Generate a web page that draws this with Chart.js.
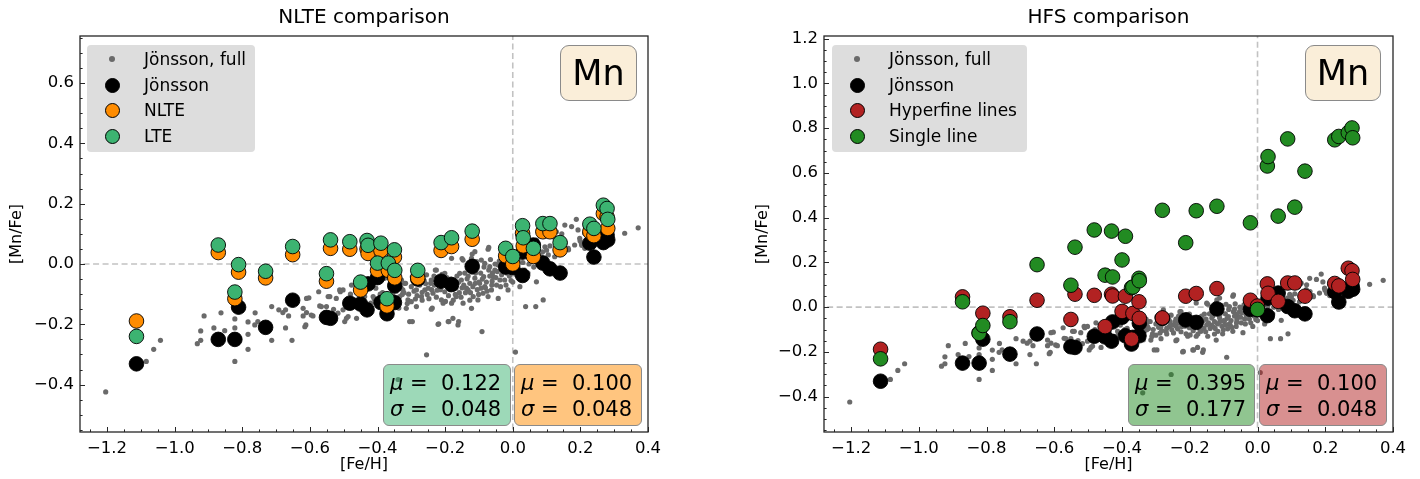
<!DOCTYPE html>
<html>
<head>
<meta charset="utf-8">
<script src="https://cdn.jsdelivr.net/npm/chart.js@4.4.1/dist/chart.umd.min.js"></script>
<style>
  html, body { margin: 0; padding: 0; background: #fff; }
  body { width: 1420px; height: 479px; position: relative; overflow: hidden; font-family: 'DejaVu Sans', sans-serif; }
  .wrap { position: absolute; top: 0; width: 710px; height: 479px; }
  .legend { position: absolute; height: 107px; background: rgba(211,211,211,0.78); border-radius: 4px; }
  .legend .row { position: absolute; left: 0; height: 20px; font-size: 17px; line-height: 20px; color: #000; white-space: nowrap; }
  .legend .mk { position: absolute; border-radius: 50%; box-sizing: border-box; }
  .legend .tx { position: absolute; top: 0; }
  .tag { position: absolute; top: 45px; width: 77px; height: 56px; box-sizing: border-box; border: 1.3px solid #8a8a8a; border-radius: 9px;
         background: rgba(245,222,179,0.5); font-size: 35px; line-height: 54px; text-align: center; color: #000; }
  .stat { position: absolute; top: 364px; height: 62px; box-sizing: border-box; border: 1.3px solid #8a8a8a; border-radius: 6px;
          font-size: 21px; line-height: 26px; color: #000; padding: 5px 0 0 6px; white-space: pre; }
  .stat i { font-style: italic; }
</style>
</head>
<body>
<div class="wrap" style="left:0"><canvas id="nlte" width="710" height="479"></canvas></div>
<div class="wrap" style="left:710px"><canvas id="hfs" width="710" height="479"></canvas></div>

<!-- legends -->
<div class="legend" style="left:87px; top:45px; width:168px;">
  <div class="row" style="top:4px"><span class="mk" style="left:22px;top:7px;width:6px;height:6px;background:#6a6a6a"></span><span class="tx" style="left:57px">Jönsson, full</span></div>
  <div class="row" style="top:30px"><span class="mk" style="left:18px;top:3px;width:15px;height:15px;background:#000;border:1px solid #000"></span><span class="tx" style="left:57px">Jönsson</span></div>
  <div class="row" style="top:55px"><span class="mk" style="left:18px;top:3px;width:15px;height:15px;background:#ff8c00;border:1px solid #000"></span><span class="tx" style="left:57px">NLTE</span></div>
  <div class="row" style="top:81px"><span class="mk" style="left:18px;top:3px;width:15px;height:15px;background:#3cb371;border:1px solid #000"></span><span class="tx" style="left:57px">LTE</span></div>
</div>
<div class="legend" style="left:832px; top:45px; width:195px;">
  <div class="row" style="top:4px"><span class="mk" style="left:22px;top:7px;width:6px;height:6px;background:#6a6a6a"></span><span class="tx" style="left:57px">Jönsson, full</span></div>
  <div class="row" style="top:30px"><span class="mk" style="left:18px;top:3px;width:15px;height:15px;background:#000;border:1px solid #000"></span><span class="tx" style="left:57px">Jönsson</span></div>
  <div class="row" style="top:55px"><span class="mk" style="left:18px;top:3px;width:15px;height:15px;background:#b22222;border:1px solid #000"></span><span class="tx" style="left:57px">Hyperfine lines</span></div>
  <div class="row" style="top:81px"><span class="mk" style="left:18px;top:3px;width:15px;height:15px;background:#228b22;border:1px solid #000"></span><span class="tx" style="left:57px">Single line</span></div>
</div>

<div class="tag" style="left:560px">Mn</div>
<div class="tag" style="left:1305px; width:76px">Mn</div>

<div class="stat" style="left:383px; width:128px; background:rgba(60,179,113,0.5)"><i>μ</i> =  0.122
<i>σ</i> =  0.048</div>
<div class="stat" style="left:514px; width:128px; background:rgba(255,140,0,0.5)"><i>μ</i> =  0.100
<i>σ</i> =  0.048</div>
<div class="stat" style="left:1128px; width:127px; background:rgba(34,139,34,0.5)"><i>μ</i> =  0.395
<i>σ</i> =  0.177</div>
<div class="stat" style="left:1259px; width:128px; background:rgba(178,34,34,0.5)"><i>μ</i> =  0.100
<i>σ</i> =  0.048</div>

<script>
// ---- data ----
const xTicks = [-1.2, -1.0, -0.8, -0.6, -0.4, -0.2, 0.0, 0.2, 0.4];
const yTicksNlte = [-0.4, -0.2, 0.0, 0.2, 0.4, 0.6];
const yTicksHfs = [-0.4, -0.2, 0.0, 0.2, 0.4, 0.6, 0.8, 1.0, 1.2];

// Jönsson, full sample (grey dots)
const fullFe = [-1.204,-1.084,-1.062,-1.042,-0.933,-0.923,-0.923,-0.913,-0.884,-0.863,-0.852,-0.822,-0.822,-0.822,-0.783,-0.783,-0.783,-0.762,-0.763,-0.754,
  -0.713,-0.713,-0.692,-0.672,-0.663,-0.672,-0.653,-0.680,-0.620,-0.610,-0.612,-0.603,-0.596,-0.574,-0.571,-0.551,-0.546,-0.522,-0.510,-0.502,-0.492,
  -0.610,-0.620,-0.615,-0.591,-0.566,-0.561,-0.541,-0.512,-0.502,-0.517,-0.497,-0.487,-0.477,-0.462,-0.438,-0.418,-0.413,-0.398,-0.379,-0.369,-0.344,
  -0.354,-0.334,-0.325,-0.320,-0.310,-0.315,-0.329,-0.305,-0.285,-0.285,-0.270,-0.260,-0.255,-0.241,-0.241,-0.236,-0.226,-0.221,-0.211,-0.201,-0.201,
  -0.191,-0.181,-0.177,-0.181,-0.167,-0.162,-0.157,-0.152,-0.147,-0.147,-0.137,-0.255,
  -0.112,-0.073,-0.122,-0.107,-0.093,-0.083,-0.068,-0.053,-0.043,-0.033,-0.038,-0.048,-0.063,-0.083,-0.098,-0.112,-0.127,-0.132,-0.117,-0.103,-0.088,
  -0.073,-0.058,-0.024,-0.014,-0.043,-0.122,-0.009,-0.029,-0.091,0.038,0.068,0.090,0.008,0.021,0.070,0.021,0.095,0.154,0.188,0.203,0.213,0.331,0.371,
  0.124,0.104,0.055,0.041,0.016,0.006,0.114,0.129,0.070,0.144,0.272,0.213,
  -0.297,-0.317,-0.327,-0.312,-0.288,-0.268,-0.253,-0.238,-0.224,-0.243,-0.199,-0.170,-0.150,-0.135,-0.120,-0.111,-0.101,-0.086,-0.071,-0.061,-0.081,
  -0.071,-0.160,-0.189,-0.219,-0.297,-0.337,-0.278,-0.209,-0.150,-0.120,-0.229,
  0.085,0.100,0.164,0.183,0.198,0.193,0.174,0.238,0.145,0.155,0.165,0.199,0.214,0.204,-0.339,
  -0.300,-0.290,-0.275,-0.262,-0.250,-0.232,-0.218,-0.205,-0.195,-0.185,-0.172,-0.165,-0.158,-0.142,-0.130,-0.125,-0.115,-0.105,-0.095,-0.090,-0.078,
  -0.066,-0.060,-0.050,-0.040,-0.030,-0.020,-0.010,0.000,0.012,0.025,0.035,0.048,0.058,0.078,0.088,0.110,0.120,0.135,-0.345,-0.360,-0.385,-0.405,
  -0.420,-0.450,-0.465,-0.530,-0.480,
  -0.330,-0.322,-0.308,-0.300,-0.292,-0.283,-0.276,-0.268,-0.258,-0.248,-0.240,-0.233,-0.226,-0.214,-0.206,-0.197,-0.190,-0.183,-0.176,-0.168,
  -0.160,-0.153,-0.145,-0.140,-0.132,-0.127,-0.118,-0.110,-0.100,-0.094,-0.085,-0.076,-0.068,-0.062,-0.052,-0.046,-0.036,-0.028,-0.018,-0.005,
  0.010,0.030,0.045,0.062,0.075,0.095,0.105,-0.355,-0.340,-0.365,-0.392,-0.410];
const fullMn = [-0.424,-0.323,-0.283,-0.253,-0.264,-0.253,-0.222,-0.172,-0.212,-0.162,-0.221,-0.182,-0.212,-0.323,-0.192,-0.233,-0.283,-0.162,-0.202,-0.191,
  -0.141,-0.253,-0.152,-0.152,-0.172,-0.212,-0.253,-0.161,-0.147,-0.161,-0.202,-0.112,-0.169,-0.092,-0.139,-0.141,-0.108,-0.114,-0.092,-0.152,-0.180,
  -0.114,-0.172,-0.208,-0.172,-0.141,-0.185,-0.108,-0.086,-0.086,-0.163,-0.191,-0.174,-0.070,-0.180,-0.108,-0.075,-0.108,-0.119,-0.047,-0.044,-0.053,
  -0.119,-0.108,-0.086,-0.064,-0.119,-0.147,-0.053,-0.191,-0.141,-0.086,-0.108,-0.086,-0.036,-0.053,-0.150,-0.097,-0.020,-0.200,-0.119,-0.031,-0.092,
  -0.191,-0.130,-0.180,0.019,-0.108,-0.202,-0.031,-0.053,0.013,-0.130,-0.080,-0.301,
  0.041,0.049,0.019,0.008,0.013,0.002,-0.009,-0.020,-0.003,-0.036,-0.053,-0.070,-0.086,-0.075,-0.064,-0.047,-0.064,-0.086,-0.108,-0.119,-0.097,
  -0.108,-0.042,-0.053,-0.086,-0.114,-0.147,-0.020,0.024,-0.224,-0.141,-0.141,-0.119,-0.292,-0.075,-0.059,-0.042,0.057,0.129,0.148,0.068,0.052,0.102,0.120,
  0.024,-0.003,0.013,0.046,0.008,-0.020,0.124,0.107,0.079,0.079,0.074,0.102,
  -0.042,-0.064,-0.101,-0.131,-0.116,-0.094,-0.101,-0.146,-0.087,-0.064,-0.124,-0.101,-0.079,-0.049,-0.027,-0.064,-0.101,-0.042,-0.020,-0.057,-0.079,
  0.055,-0.191,-0.191,-0.198,-0.191,-0.146,-0.012,-0.034,0.018,0.033,-0.020,
  0.024,0.046,0.052,0.063,0.085,0.113,0.124,0.063,0.100,0.070,0.047,0.077,0.107,0.062,-0.383,
  -0.075,-0.060,-0.070,-0.055,-0.080,-0.070,-0.050,-0.065,-0.045,-0.085,-0.060,-0.040,-0.095,-0.030,-0.010,-0.095,-0.005,-0.085,-0.030,-0.050,-0.060,
  0.015,-0.030,-0.045,0.010,-0.015,-0.070,-0.040,-0.060,-0.010,0.020,-0.020,0.000,0.030,0.010,0.040,0.060,0.090,0.055,-0.090,-0.075,-0.095,-0.080,
  -0.130,-0.100,-0.120,-0.150,-0.100,
  -0.080,-0.095,-0.100,-0.125,-0.090,-0.105,-0.050,-0.120,-0.065,-0.115,-0.085,-0.040,-0.110,-0.085,-0.130,-0.070,-0.105,-0.050,-0.120,-0.080,
  -0.060,-0.110,-0.070,-0.095,-0.040,-0.120,-0.075,-0.030,-0.060,-0.080,-0.010,-0.090,-0.040,-0.070,0.000,-0.025,-0.075,0.005,-0.030,-0.055,
  -0.035,0.005,-0.030,-0.010,0.030,0.020,0.030,-0.100,-0.070,-0.120,-0.100,-0.115];

// the comparison stars
const starFe  = [-1.113,-0.871,-0.822,-0.811,-0.731,-0.651,-0.551,-0.539,-0.482,-0.450,-0.431,-0.428,-0.400,-0.390,-0.372,-0.368,-0.350,-0.349,
  -0.281,-0.212,-0.181,-0.120,-0.021,0.000,0.029,0.031,0.061,0.089,0.110,0.140,0.228,0.240,0.268,0.279,0.281];
const jonsson = [-0.331,-0.250,-0.250,-0.143,-0.210,-0.120,-0.177,-0.180,-0.130,-0.133,-0.152,-0.066,-0.045,-0.128,-0.165,-0.135,-0.128,-0.072,
  -0.050,-0.057,-0.068,-0.008,-0.010,-0.012,-0.038,0.040,0.063,0.003,-0.016,-0.030,0.069,0.023,0.071,0.096,0.080];
const nlte    = [-0.189,0.038,-0.115,-0.027,-0.046,0.031,-0.057,0.052,0.049,-0.086,0.050,0.035,-0.021,0.045,-0.139,-0.021,0.023,-0.046,
  -0.046,0.045,0.058,0.082,0.027,0.000,0.102,0.060,0.025,0.107,0.107,0.047,0.107,0.094,0.167,0.156,0.118];
const lte     = [-0.240,0.063,-0.093,-0.002,-0.024,0.058,-0.032,0.080,0.074,-0.060,0.078,0.062,0.003,0.069,-0.115,0.003,0.047,-0.021,
  -0.021,0.071,0.087,0.109,0.052,0.025,0.127,0.087,0.052,0.134,0.134,0.071,0.132,0.118,0.195,0.184,0.148];
const hfs     = [-0.188,0.046,-0.115,-0.027,-0.043,0.031,-0.055,0.058,0.053,-0.087,0.058,0.050,-0.019,0.049,-0.143,-0.028,0.024,-0.050,
  -0.048,0.049,0.061,0.083,0.031,0.005,0.104,0.062,0.026,0.108,0.108,0.049,0.106,0.095,0.174,0.163,0.124];
const single  = [-0.231,0.024,-0.117,-0.082,-0.065,0.190,0.098,0.268,0.345,0.143,0.340,0.135,0.211,0.317,0.087,0.090,0.129,0.118,
  0.433,0.288,0.431,0.451,0.377,-0.010,0.631,0.673,0.407,0.752,0.447,0.608,0.748,0.763,0.780,0.801,0.757];

const FONT = "'DejaVu Sans', sans-serif";
const fmt = v => v.toFixed(1).replace('-', '\u2212');
const pts = (xs, ys) => xs.map((x, i) => ({ x, y: ys[i] }));

// inward ticks (major + minor) on left/bottom and the box frame, like matplotlib
const frameTicks = {
    id: 'frameTicks',
    afterDatasetsDraw(chart) {
        const { ctx, chartArea: a, scales: { x, y } } = chart;
        ctx.save();
        ctx.strokeStyle = '#262626';
        ctx.lineWidth = 1;
        const tickRun = (scale, horiz) => {
            const majors = scale.ticks.map(t => t.value);
            for (let k = Math.ceil(scale.min / 0.05 - 1e-9); k * 0.05 <= scale.max + 1e-9; k++) {
                const v = k * 0.05;
                const len = majors.some(m => Math.abs(m - v) < 1e-6) ? 5 : 2.6;
                const p = Math.round(scale.getPixelForValue(v)) + 0.5;
                ctx.beginPath();
                if (horiz) { ctx.moveTo(p, a.bottom); ctx.lineTo(p, a.bottom - len); }
                else { ctx.moveTo(a.left, p); ctx.lineTo(a.left + len, p); }
                ctx.stroke();
            }
        };
        tickRun(x, true);
        tickRun(y, false);
        ctx.lineWidth = 1.3;
        ctx.strokeRect(a.left, a.top, a.right - a.left, a.bottom - a.top);
        ctx.restore();
    }
};

function makeChart(id, o) {
    const zeroLine = (data) => ({
        data, showLine: true, pointRadius: 0, borderColor: '#c2c2c2', borderWidth: 1.6,
        borderDash: [6, 3.5], order: 9
    });
    const big = (data, color, order) => ({
        data, pointRadius: 7.3, pointBorderWidth: 0.9, pointBackgroundColor: color,
        pointBorderColor: '#000', order
    });
    return new Chart(document.getElementById(id), {
        type: 'scatter',
        data: {
            datasets: [
                zeroLine([{ x: 0, y: o.yMin - 1 }, { x: 0, y: o.yMax + 1 }]),
                zeroLine([{ x: -2, y: 0 }, { x: 1, y: 0 }]),
                { data: pts(fullFe, fullMn), pointRadius: 2.6, pointBorderWidth: 0, pointBackgroundColor: '#6a6a6a', order: 8 },
                big(pts(starFe, jonsson), '#000', 7),
                big(pts(starFe, o.second), o.secondColor, 6),
                big(pts(starFe, o.third), o.thirdColor, 5)
            ]
        },
        options: {
            responsive: false,
            animation: false,
            devicePixelRatio: 1,
            events: [],
            layout: { padding: { left: 0, right: o.padRight, top: 0, bottom: 0 } },
            plugins: {
                legend: { display: false },
                tooltip: { enabled: false },
                title: {
                    display: true, text: o.title, fullSize: false, color: '#000',
                    font: { family: FONT, size: 20, weight: 'normal', lineHeight: 1.2 },
                    padding: { top: 6, bottom: 6 }
                }
            },
            scales: {
                x: {
                    type: 'linear', min: -1.28, max: 0.40,
                    afterBuildTicks: s => { s.ticks = xTicks.map(v => ({ value: v })); },
                    afterFit: s => { s.height = 47; },
                    grid: { display: false, drawTicks: false },
                    border: { display: false },
                    ticks: { autoSkip: false, maxRotation: 0, padding: 7, color: '#000',
                             font: { family: FONT, size: 16.5 }, callback: v => fmt(v) },
                    title: { display: true, text: '[Fe/H]', color: '#000',
                             font: { family: FONT, size: 16, lineHeight: 1.2 }, padding: { top: 5, bottom: 5 } }
                },
                y: {
                    type: 'linear', min: o.yMin, max: o.yMax,
                    afterBuildTicks: s => { s.ticks = o.yTicks.map(v => ({ value: v })); },
                    afterFit: s => { s.width = o.axisW; },
                    grid: { display: false, drawTicks: false },
                    border: { display: false },
                    ticks: { autoSkip: false, padding: 6, color: '#000',
                             font: { family: FONT, size: 16.5 }, callback: v => fmt(v) },
                    title: { display: true, text: '[Mn/Fe]', color: '#000',
                             font: { family: FONT, size: 16, lineHeight: 1.2 }, padding: { top: o.yTitlePad, bottom: o.yTitlePad } }
                }
            }
        },
        plugins: [frameTicks]
    });
}

makeChart('nlte', {
    title: 'NLTE comparison', yMin: -0.557, yMax: 0.756, yTicks: yTicksNlte,
    axisW: 80, padRight: 62, yTitlePad: 7.5,
    second: nlte, secondColor: '#ff8c00', third: lte, thirdColor: '#3cb371'
});
makeChart('hfs', {
    title: 'HFS comparison', yMin: -0.558, yMax: 1.212, yTicks: yTicksHfs,
    axisW: 114, padRight: 27, yTitlePad: 43,
    second: hfs, secondColor: '#b22222', third: single, thirdColor: '#228b22'
});
</script>
</body>
</html>
